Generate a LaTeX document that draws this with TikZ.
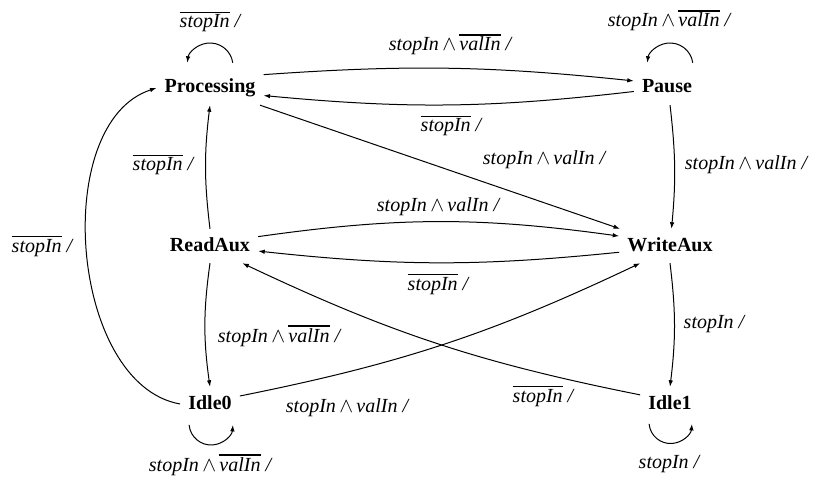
\documentclass[tikz,border=0pt]{standalone}
\usepackage{fontspec}
\setmainfont{Liberation Serif}
\usetikzlibrary{arrows.meta}
\newcommand{\ovl}[1]{\leavevmode\vbox{\hrule height 1.7pt\kern1.5pt\hbox{#1}}}
\newcommand{\wdg}{\,$\wedge$\,}
\begin{document}
\begin{tikzpicture}[x=1pt,y=1pt,
  state/.style={font=\fontsize{20}{24}\selectfont\bfseries, inner xsep=8pt, inner ysep=8pt, text height=14pt, text depth=4pt},
  lab/.style={font=\fontsize{20}{24}\selectfont\itshape, inner sep=0pt, anchor=base},
  arr/.style={-{Latex[length=6.5pt,width=4.5pt]}, line width=1pt}]
\useasboundingbox (0,0) rectangle (819,480);
% states
\node[state] (P)  at (210,392) {Processing};
\node[state] (Pa) at (667,392) {Pause};
\node[state] (R)  at (210,234) {ReadAux};
\node[state] (W)  at (670,234) {WriteAux};
\node[state] (I0) at (210,76)  {Idle0};
\node[state] (I1) at (670,76)  {Idle1};
% transitions
\draw[arr] (P.14) to[bend left=5] (Pa.168);
\draw[arr] (Pa.186) to[bend left=6] (P.-8);
\draw[arr] (P) -- (W);
\draw[arr] (Pa.-80) to[bend left=6] (W.85);
\draw[arr] (R.north) to[bend left=7] (P.south);
\draw[arr] (R.11) to[bend left=8] (W.169);
\draw[arr] (W.187) to[bend left=6] (R.-6);
\draw[arr] (R.south) to[bend right=8] (I0.north);
\draw[arr] (I0.15) to[bend right=7] (W.-150);
\draw[arr] (I1.163) to[bend left=7] (R.-28);
\draw[arr] (W.south) to[bend left=7] (I1.north);
\draw[arr] (I0.west) .. controls +(170:112) and +(198:112) .. (P.west);
% self loops
\draw[arr] ([shift={(22.78,25.2)}]P.center) arc[start angle=8,end angle=172,radius=23];
\draw[arr] ([shift={(25.78,25.2)}]Pa.center) arc[start angle=8,end angle=172,radius=23];
\draw[arr] ([shift={(-20.9,-20.9)}]I0.center) arc[start angle=185,end angle=355,radius=22];
\draw[arr] ([shift={(-20.9,-19.9)}]I1.center) arc[start angle=185,end angle=355,radius=21.5];
% labels
\node[lab] (l1)  at (450,429) {stopIn\wdg\ovl{valIn} /};
\node[lab] (l2)  at (451,348) {\ovl{stopIn} /};
\node[lab] (l3)  at (544,315) {stopIn\wdg valIn /};
\node[lab] (l4)  at (746,310) {stopIn\wdg valIn /};
\node[lab] (l5)  at (163,309) {\ovl{stopIn} /};
\node[lab] (l6)  at (438,269) {stopIn\wdg valIn /};
\node[lab] (l7)  at (438,190) {\ovl{stopIn} /};
\node[lab] (l8)  at (279,138) {stopIn\wdg\ovl{valIn} /};
\node[lab] (l9)  at (347,68)  {stopIn\wdg valIn /};
\node[lab] (l10) at (543,78)  {\ovl{stopIn} /};
\node[lab] (l11) at (714,152) {stopIn /};
\node[lab] (l12) at (42,228)  {\ovl{stopIn} /};
\node[lab] (lp)  at (210,452) {\ovl{stopIn} /};
\node[lab] (lpa) at (669,453) {stopIn\wdg\ovl{valIn} /};
\node[lab] (li0) at (210,9)   {stopIn\wdg\ovl{valIn} /};
\node[lab] (li1) at (669,12)  {stopIn /};
\end{tikzpicture}
\end{document}
